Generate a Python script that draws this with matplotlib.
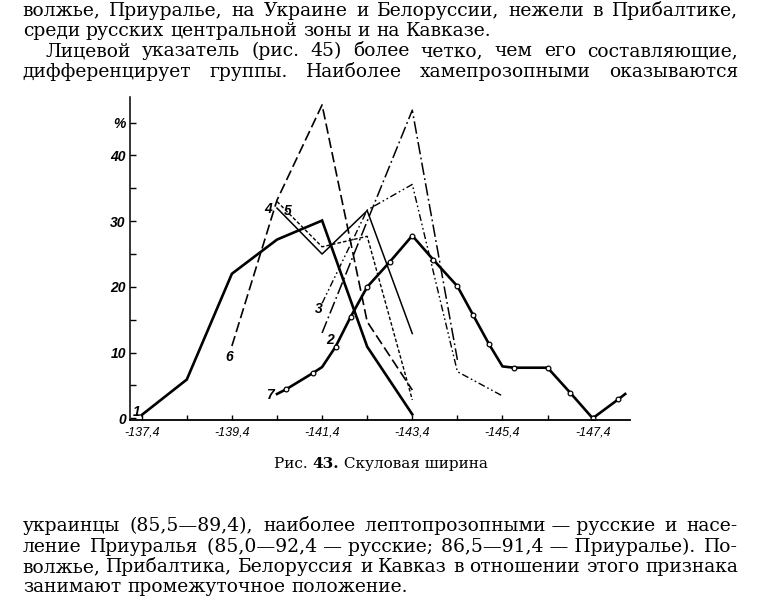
import matplotlib
matplotlib.use("Agg")
import matplotlib.pyplot as plt

# ---------------- data ----------------
x_tick_pos = [0, 1, 2, 3, 4, 5, 6, 7, 8, 9, 10]
x_tick_labels = ["-137,4", "", "-139,4", "", "-141,4", "", "-143,4", "", "-145,4", "", "-147,4"]
y_tick_pos = [0, 5, 10, 15, 20, 25, 30, 35, 40, 45]
y_tick_labels = ["0", "", "10", "", "20", "", "30", "", "40", "%"]

s1_x = [0, 1, 2, 3, 4, 5, 6]
s1_y = [0.5, 5.9, 22.0, 27.2, 30.1, 10.9, 0.6]
s2_x = [4, 5, 6, 7]
s2_y = [13.0, 30.0, 46.9, 8.9]
s3_x = [4, 5, 6, 7, 8]
s3_y = [17.5, 31.7, 35.6, 7.1, 3.4]
s4_x = [3, 4, 5, 6]
s4_y = [32.0, 25.0, 31.6, 12.9]
s5_x = [3, 4, 5, 6]
s5_y = [33.0, 26.1, 27.7, 2.8]
s6_x = [2, 3, 4, 5, 6]
s6_y = [11.0, 33.2, 47.7, 14.7, 4.3]
s7_x = [3.0, 3.2, 3.8, 4.0, 4.3, 4.63, 5.0, 5.5, 6.0, 6.47, 7.0, 7.35, 7.7, 8.0,
        8.25, 9.0, 9.5, 10.0, 10.57, 10.72]
s7_y = [3.7, 4.4, 6.9, 7.8, 10.9, 15.4, 20.0, 23.8, 27.8, 24.1, 20.1, 15.7, 11.3, 7.9,
        7.7, 7.7, 3.9, 0.0, 2.9, 3.7]
s7_circles = [1, 2, 4, 5, 6, 7, 8, 9, 10, 11, 12, 14, 15, 16, 17, 18]

series_names = ["1", "2", "3", "4", "5", "6", "7"]

top_lines = [
    "волжье, Приуралье, на Украине и Белоруссии, нежели в Прибалтике,",
    "среди русских центральной зоны и на Кавказе.",
    "Лицевой указатель (рис. 45) более четко, чем его составляющие,",
    "дифференцирует группы. Наиболее хамепрозопными оказываются",
]
caption_parts = ["Рис. ", "43.", " Скуловая ширина"]
bottom_lines = [
    "украинцы (85,5—89,4), наиболее лептопрозопными\u00a0—\u00a0русские и насе-",
    "ление Приуралья (85,0—92,4\u00a0—\u00a0русские; 86,5—91,4\u00a0—\u00a0Приуралье). По-",
    "волжье, Прибалтика, Белоруссия и Кавказ в отношении этого признака",
    "занимают промежуточное положение.",
]

# ---------------- figure ----------------
W, H = 761, 599
plt.rcParams["lines.scale_dashes"] = False
fig = plt.figure(figsize=(W / 100, H / 100), dpi=100)
fig.patch.set_facecolor("white")
renderer = fig.canvas.get_renderer()

ax = fig.add_axes([130 / W, 1 - 420 / H, 500 / W, (420 - 96.7) / H])
ax.set_xlim(-0.259, 10.827)
ax.set_ylim(-0.26, 48.95)

k = "black"
ax.plot(s1_x, s1_y, color=k, lw=1.9, solid_joinstyle="miter")
ax.plot(s2_x, s2_y, color=k, lw=1.1, linestyle=(0, (9, 2.4, 1.3, 2.4)))
ax.plot(s3_x, s3_y, color=k, lw=1.0, linestyle=(0, (5, 2, 1.2, 2, 1.2, 2)))
ax.plot(s4_x, s4_y, color=k, lw=1.1)
ax.plot(s5_x, s5_y, color=k, lw=1.0, linestyle=(0, (2.6, 1.5)))
ax.plot(s6_x, s6_y, color=k, lw=1.2, linestyle=(0, (7.5, 3.0)))
ax.plot(s7_x, s7_y, color=k, lw=1.9, marker="o", markevery=s7_circles,
        markersize=3.4, markerfacecolor="white", markeredgecolor=k, markeredgewidth=0.9)

label_pos = {"1": (-0.11, 1.0), "2": (4.18, 11.9), "3": (3.92, 16.7), "4": (2.81, 31.9),
             "5": (3.23, 31.6), "6": (1.94, 9.4), "7": (2.85, 3.5)}
for name in series_names:
    lx, ly = label_pos[name]
    ax.text(lx, ly, name, fontsize=10, style="italic", fontweight="bold",
            family="Liberation Sans", ha="center", va="center", color=k)

for side in ["top", "right"]:
    ax.spines[side].set_visible(False)
ax.spines["left"].set_linewidth(1.1)
ax.spines["bottom"].set_linewidth(1.3)
ax.set_xticks(x_tick_pos)
ax.set_xticklabels(x_tick_labels)
ax.set_yticks(y_tick_pos)
ax.set_yticklabels(y_tick_labels)
ax.tick_params(axis="x", direction="in", length=3.8, width=1.0, pad=4.5)
ax.tick_params(axis="y", direction="in", length=4.3, width=1.0, pad=3.0)
for lab in ax.get_xticklabels():
    lab.set_family("Liberation Sans")
    lab.set_style("italic")
    lab.set_fontsize(9)
for lab in ax.get_yticklabels():
    lab.set_family("Liberation Sans")
    lab.set_style("italic")
    lab.set_fontweight("bold")
    lab.set_fontsize(10)

# ---------------- page text ----------------
BODY = dict(family="DejaVu Serif", fontsize=13.5, color=k)


def put_line(text, x0, x1, baseline, justify=True, **kw):
    words = text.split(" ")
    objs = [fig.text(0, 1 - baseline / H, w, va="baseline", ha="left", **kw) for w in words]
    widths = [o.get_window_extent(renderer).width for o in objs]
    sp = fig.text(0, 0, "a a", **kw)
    sp2 = fig.text(0, 0, "aa", **kw)
    space = sp.get_window_extent(renderer).width - sp2.get_window_extent(renderer).width
    sp.remove()
    sp2.remove()
    if justify and len(words) > 1:
        gap = (x1 - x0 - sum(widths)) / (len(words) - 1)
    else:
        gap = space
    x = x0
    for o, w in zip(objs, widths):
        o.set_x(x / W)
        x += w + gap


put_line(top_lines[0], 22.7, 738, 15.5, True, **BODY)
put_line(top_lines[1], 22.7, 738, 36, False, **BODY)
put_line(top_lines[2], 45, 738, 56.5, True, **BODY)
put_line(top_lines[3], 22.7, 738, 77, True, **BODY)

put_line(bottom_lines[0], 22.7, 738, 531, True, **BODY)
put_line(bottom_lines[1], 22.7, 738, 551.5, True, **BODY)
put_line(bottom_lines[2], 22.7, 738, 572, True, **BODY)
put_line(bottom_lines[3], 22.7, 738, 592, False, **BODY)

# caption
cap_objs = []
for i, part in enumerate(caption_parts):
    cap_objs.append(fig.text(0, 1 - 468 / H, part, va="baseline", ha="left",
                             family="DejaVu Serif", fontsize=11,
                             fontweight="bold" if i == 1 else "normal", color=k))
cw = [o.get_window_extent(renderer).width for o in cap_objs]
cx = 381 - sum(cw) / 2
for o, w in zip(cap_objs, cw):
    o.set_x(cx / W)
    cx += w

fig.savefig("out.png", dpi=100, facecolor="white")
